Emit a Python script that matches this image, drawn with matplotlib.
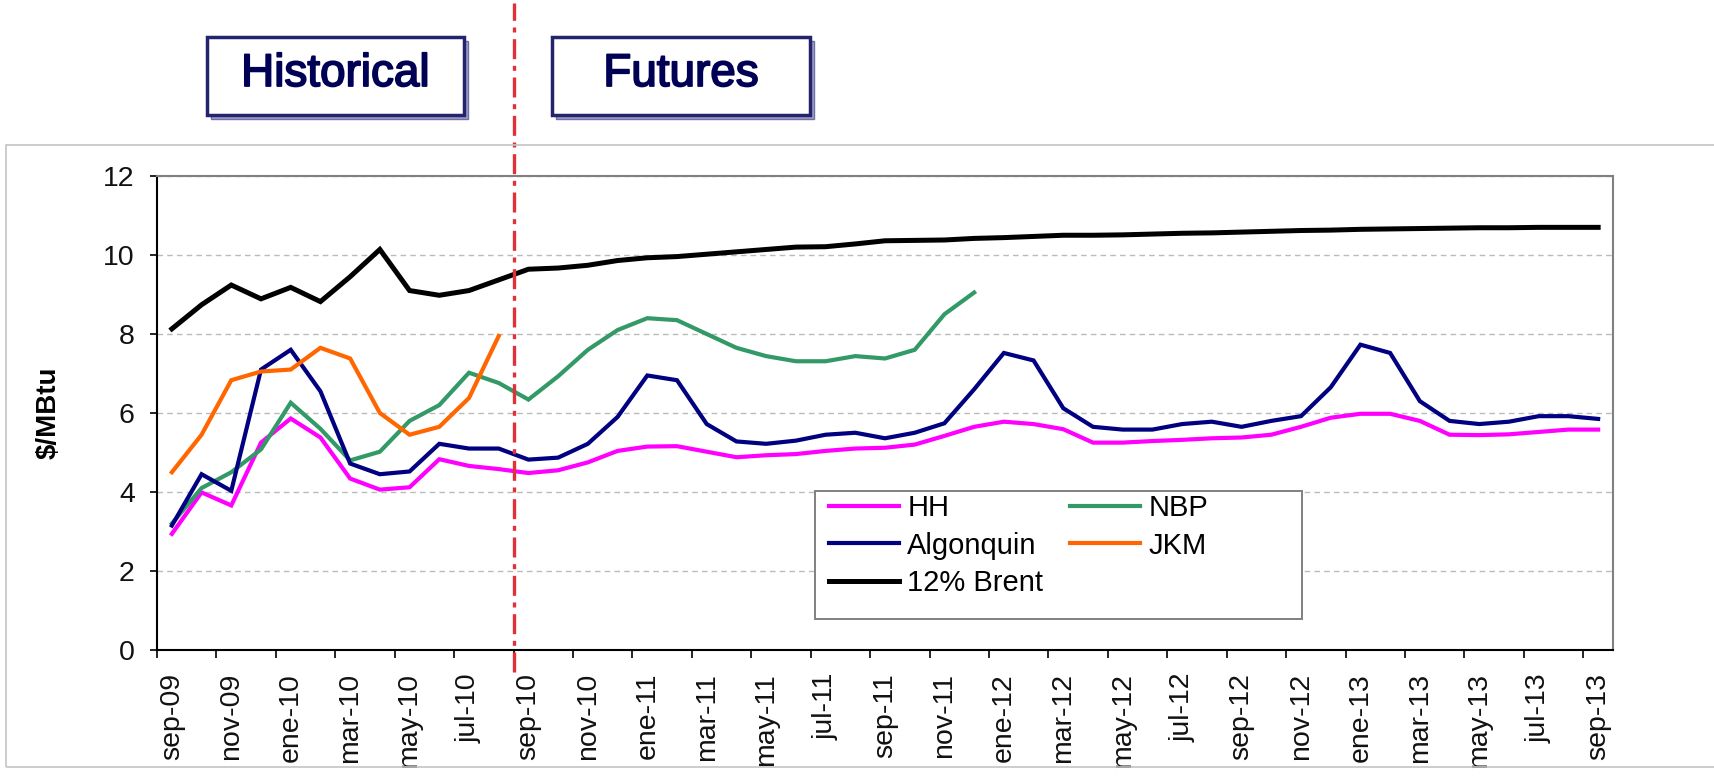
import matplotlib
matplotlib.use("Agg")
import matplotlib.pyplot as plt
from matplotlib.patches import Rectangle
import matplotlib.patheffects as pe
import numpy as np

plt.rcParams['font.family'] = ['Liberation Sans', 'DejaVu Sans']

# ---- data ----
month_names = ['ene', 'feb', 'mar', 'abr', 'may', 'jun', 'jul', 'ago', 'sep', 'oct', 'nov', 'dic']
months = []
for k in range(49):
    m = (8 + k) % 12
    y = 9 + (8 + k) // 12
    months.append(f"{month_names[m]}-{y:02d}")

hh = [2.94, 3.99, 3.66, 5.25, 5.86, 5.38, 4.34, 4.06, 4.12, 4.83, 4.66, 4.58, 4.48,
      4.55, 4.75, 5.04, 5.15, 5.16, 5.02, 4.88, 4.93, 4.96, 5.04, 5.10, 5.12, 5.20,
      5.42, 5.65, 5.78, 5.72, 5.59, 5.25, 5.25, 5.29, 5.32, 5.36, 5.38, 5.45, 5.65,
      5.88, 5.98, 5.98, 5.80, 5.45, 5.44, 5.46, 5.52, 5.58, 5.58]
algonquin = [3.15, 4.45, 4.03, 7.10, 7.60, 6.55, 4.72, 4.45, 4.52, 5.22, 5.10, 5.10, 4.82,
             4.87, 5.22, 5.90, 6.95, 6.83, 5.72, 5.28, 5.22, 5.30, 5.45, 5.50, 5.36, 5.50,
             5.74, 6.60, 7.52, 7.33, 6.12, 5.65, 5.58, 5.58, 5.72, 5.78, 5.65, 5.80, 5.92,
             6.65, 7.73, 7.52, 6.30, 5.80, 5.72, 5.78, 5.92, 5.92, 5.85]
brent = [8.13, 8.74, 9.24, 8.89, 9.18, 8.82, 9.45, 10.14, 9.10, 8.98, 9.10, 9.37, 9.64,
         9.67, 9.74, 9.86, 9.93, 9.96, 10.02, 10.08, 10.14, 10.20, 10.21, 10.28, 10.36, 10.37,
         10.38, 10.42, 10.44, 10.47, 10.50, 10.50, 10.51, 10.53, 10.55, 10.56, 10.58, 10.60,
         10.62, 10.63, 10.65, 10.66, 10.67, 10.68, 10.69, 10.69, 10.70, 10.70, 10.70]
nbp = [3.20, 4.10, 4.50, 5.08, 6.26, 5.60, 4.80, 5.02, 5.80, 6.20, 7.02, 6.76, 6.34,
       6.93, 7.60, 8.10, 8.40, 8.35, 8.00, 7.65, 7.44, 7.31, 7.31, 7.44, 7.38, 7.60,
       8.50, 9.05]
jkm = [4.50, 5.45, 6.83, 7.05, 7.10, 7.65, 7.38, 6.00, 5.45, 5.65, 6.38, 7.95]

series_names = ['HH', 'NBP', 'Algonquin', 'JKM', '12% Brent']
series_colors = ['#FF00FF', '#339966', '#000080', '#FF6600', '#000000']
series_widths = [3.0, 3.0, 3.0, 3.0, 3.6]
split_index = 11.5  # boundary between historical and futures

W, H = 1714, 779
fig = plt.figure(figsize=(W / 100, H / 100), dpi=100)
fig.patch.set_facecolor('white')


def fx(px):
    return px / W


def fy(py):
    return 1 - py / H


ax = fig.add_axes([fx(157), fy(650), fx(1613) - fx(157), fy(176) - fy(650)])

x_all = np.arange(len(months))
data = [hh, nbp, algonquin, jkm, brent]
lines = {}
for name, vals, col, lw in zip(series_names, data, series_colors, series_widths):
    (ln,) = ax.plot(x_all[:len(vals)], vals, color=col, lw=lw,
                    solid_joinstyle='miter', label=name, zorder=3)
    lines[name] = ln

ax.set_xlim(-0.5, len(months) - 0.5)
ax.set_ylim(0, 12)
ax.set_yticks(np.arange(0, 13, 2))
ax.yaxis.grid(True, linestyle=(0, (4, 3)), color='#BBBBBB', lw=1)
ax.set_axisbelow(True)

ax.set_xticks(x_all[::2])
ax.set_xticklabels(months[::2], rotation=90, fontsize=20.5, color='#111111')
ax.set_xticks(np.arange(-0.5, len(months) - 0.5, 2), minor=True)
ax.tick_params(axis='x', which='major', length=0, pad=16.5)
ax.tick_params(axis='x', which='minor', length=5.8, width=1.2, direction='out', color='black')
ax.tick_params(axis='y', which='major', length=5, width=1.2, pad=11, labelsize=20.5,
               labelcolor='#111111')

for s in ['left', 'bottom']:
    ax.spines[s].set_color('black')
    ax.spines[s].set_linewidth(1.5)
for s in ['top', 'right']:
    ax.spines[s].set_color('#808080')
    ax.spines[s].set_linewidth(1.5)

ax.set_ylabel('$/MBtu', fontsize=20, fontweight='bold')
axw = fx(1613) - fx(157)
ax.yaxis.set_label_coords((fx(62) - fx(157)) / axw, 0.5, transform=ax.transAxes)

# split line
axh = 650 - 176
ax.axvline(split_index, ymin=(650 - 672) / axh, ymax=(650 - 3) / axh, clip_on=False,
           color='#E0303A', lw=2.4, linestyle=(0, (6, 2, 1.5, 2)), zorder=5)

# legend
order = ['HH', 'Algonquin', '12% Brent', 'NBP', 'JKM']
leg = fig.legend([lines[n] for n in order], order, ncol=2, loc='upper left',
                 bbox_to_anchor=(fx(829), fy(494)), frameon=False, fontsize=21,
                 handlelength=2.4, handletextpad=0.28, columnspacing=0.92,
                 labelspacing=0.33, borderpad=0, borderaxespad=0)
fig.patches.append(Rectangle((fx(815), fy(619)), fx(1302) - fx(815), fy(491) - fy(619),
                             transform=fig.transFigure, facecolor='white', edgecolor='#808080',
                             lw=1.4, zorder=1))

# outer frame
fig.patches.append(Rectangle((fx(6), fy(767)), fx(1730) - fx(6), fy(145) - fy(767),
                             transform=fig.transFigure, facecolor='none', edgecolor='#C4C4C4',
                             lw=1.2, zorder=0))

# header boxes
for label, x0, x1 in [('Historical', 207, 464), ('Futures', 552, 810)]:
    fig.patches.append(Rectangle((fx(x0 + 4), fy(115 + 4)), fx(x1) - fx(x0), fy(37) - fy(115),
                                 transform=fig.transFigure, facecolor='#A0A0C8',
                                 edgecolor='#7070A8', lw=1.0, zorder=2))
    fig.patches.append(Rectangle((fx(x0), fy(115)), fx(x1) - fx(x0), fy(37) - fy(115),
                                 transform=fig.transFigure, facecolor='white',
                                 edgecolor='#23236E', lw=2.5, zorder=3))
    fig.text(fx((x0 + x1) / 2), fy(74), label, ha='center', va='center', fontsize=33,
             color='#000055', zorder=4,
             path_effects=[pe.withStroke(linewidth=1.3, foreground='#000055')])

fig.savefig('out.png', dpi=100)
